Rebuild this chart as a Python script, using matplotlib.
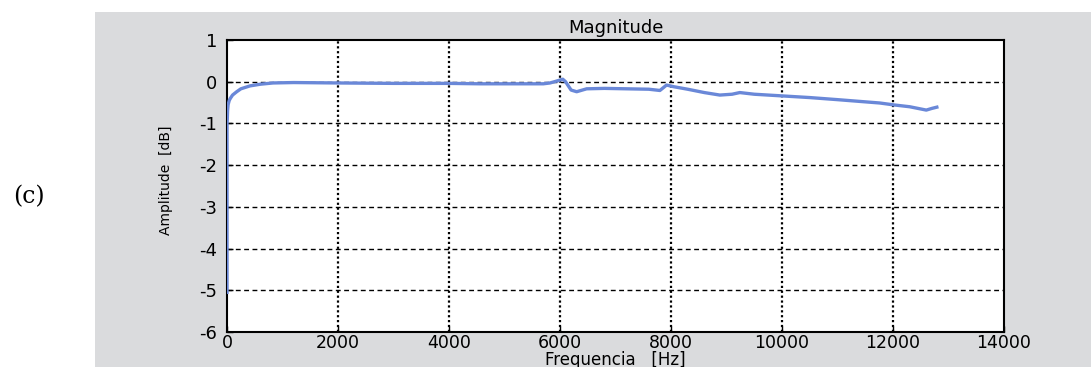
import matplotlib
matplotlib.use("Agg")
import matplotlib.pyplot as plt
from matplotlib.patches import Rectangle

# Data
freq_hz = [0, 0, 5, 10, 20, 40, 60, 100, 175, 250, 415, 600, 830, 1200, 2000,
           3000, 4000, 4560, 5200, 5700, 5820, 5900, 6000, 6050, 6100, 6200,
           6300, 6480, 6800, 7200, 7600, 7800, 7920, 8050, 8300, 8600, 8880,
           9100, 9240, 9500, 10000, 10500, 11000, 11760, 12040, 12300, 12600,
           12700, 12790]
amp_db = [-5.05, -1.0, -0.9, -0.7, -0.55, -0.45, -0.4, -0.32, -0.24, -0.17,
          -0.1, -0.06, -0.03, -0.02, -0.03, -0.04, -0.04, -0.05, -0.05, -0.05,
          -0.03, 0.0, 0.04, 0.06, 0.0, -0.2, -0.24, -0.17, -0.16, -0.17, -0.18,
          -0.21, -0.08, -0.12, -0.18, -0.26, -0.32, -0.3, -0.26, -0.3, -0.34,
          -0.38, -0.43, -0.51, -0.56, -0.6, -0.68, -0.64, -0.61]
x_ticks = [0, 2000, 4000, 6000, 8000, 10000, 12000, 14000]
y_ticks = [-6, -5, -4, -3, -2, -1, 0, 1]

W, H = 1091, 367
fig = plt.figure(figsize=(W / 100, H / 100), dpi=100)
fig.patch.set_facecolor("white")
fig.add_artist(Rectangle((95 / W, 0), 1 - 95 / W, (H - 12) / H,
                         transform=fig.transFigure, facecolor="#dadbdd",
                         edgecolor="none", zorder=0))

ax = fig.add_axes([227 / W, (H - 332) / H, (1004 - 227) / W, (332 - 40) / H])
ax.set_facecolor("white")
ax.plot(freq_hz, amp_db, color="#6a88d8", linewidth=2.4, zorder=3,
        solid_joinstyle="round")
ax.set_xlim(0, 14000)
ax.set_ylim(-6, 1)
ax.set_xticks(x_ticks)
ax.set_yticks(y_ticks)

font = "DejaVu Sans"
ax.set_xticklabels([str(t) for t in x_ticks], fontsize=12.5, family=font)
ax.set_yticklabels([str(t) for t in y_ticks], fontsize=13, family=font)
ax.tick_params(axis="y", direction="in", length=4, width=1, pad=7)
ax.tick_params(axis="x", direction="in", length=4, width=1, pad=1.5)

for xv in x_ticks[1:-1]:
    ax.axvline(xv, color="black", linestyle=(0, (1, 1.2)), linewidth=1.6, zorder=1)
for yv in y_ticks[1:-1]:
    ax.axhline(yv, color="black", linestyle=(0, (3.5, 2.5)), linewidth=1.0, zorder=1)

for sp in ax.spines.values():
    sp.set_linewidth(1.5)

ax.set_title("Magnitude", fontsize=13, family=font, pad=5)
ax.set_xlabel("Frequencia   [Hz]", fontsize=12, family=font)
ax.xaxis.set_label_coords(0.5, -(351 - 332) / 292)
ax.set_ylabel("Amplitude  [dB]", fontsize=10, family=font)
ax.yaxis.set_label_coords(-(227 - 173) / 777, 0.52)

fig.text(29 / W, 1 - 197 / H, "(c)", fontsize=17, family="DejaVu Serif",
         ha="center", va="center")

fig.savefig("out.png", dpi=100)
